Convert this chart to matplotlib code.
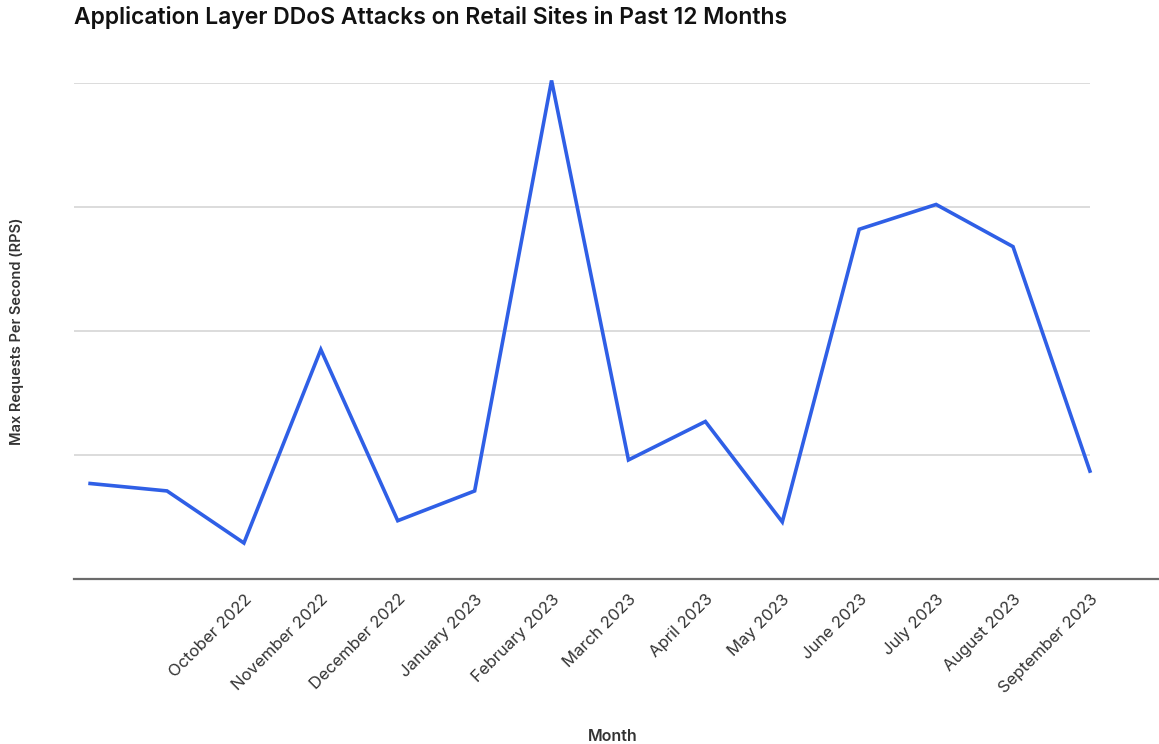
import numpy as np
import matplotlib.pyplot as plt

# Max RPS per point (one unit = one gridline step)
rps = [0.77, 0.71, 0.29, 1.85, 0.47, 0.71, 4.02, 0.96, 1.27, 0.46, 2.82, 3.02, 2.68, 0.87]
meses = ["", "", "October 2022", "November 2022", "December 2022", "January 2023",
         "February 2023", "March 2023", "April 2023", "May 2023", "June 2023",
         "July 2023", "August 2023", "September 2023"]

plt.rcParams['font.family'] = ['Inter', 'DejaVu Sans']

fig = plt.figure(figsize=(11.59, 7.44), dpi=100)
ax = fig.add_axes([0.0638, 0.2218, 0.8766, 0.6667])

x = np.arange(len(rps))
ax.plot(x, rps, color='#2f5fe6', linewidth=2.6, clip_on=False, zorder=3,
        solid_joinstyle='miter')

ax.set_xlim(-0.21, len(rps) - 1)
ax.set_ylim(0, 4)

# grade horizontal
for g in [1, 2, 3, 4]:
    ax.axhline(g, color='#d6d6d6', linewidth=1.2, zorder=1)
ax.axhline(0, xmin=0, xmax=1.068, color='#6b6b6b', linewidth=1.6, clip_on=False, zorder=2)

for s in ax.spines.values():
    s.set_visible(False)
ax.set_yticks([])
ax.set_xticks(x)
ax.set_xticklabels(meses, rotation=45, ha='right', rotation_mode='anchor',
                   fontsize=12, color='#333333')
ax.tick_params(axis='x', length=0, pad=9)

ax.set_ylabel('Max Requests Per Second (RPS)', fontsize=10.5, fontweight='semibold',
              color='#333333')
ax.yaxis.set_label_coords(-0.049, 0.5)
fig.text(0.529, 0.0, 'Month', ha='center', va='bottom', fontsize=11.5,
         fontweight='semibold', color='#333333')
fig.text(0.064, 0.977, 'Application Layer DDoS Attacks on Retail Sites in Past 12 Months',
         ha='left', va='center', fontsize=16.5, fontweight='semibold', color='#111111')

fig.savefig('out.png', dpi=100)
